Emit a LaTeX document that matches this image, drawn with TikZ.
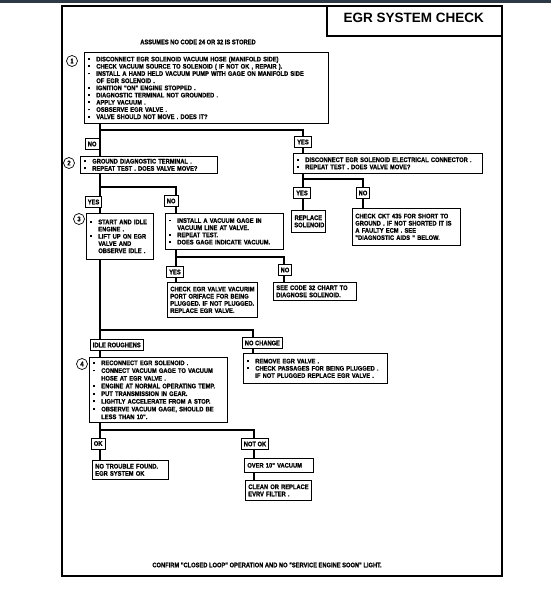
\documentclass[tikz,border=0pt]{standalone}
\usepackage{fontspec}
\setmainfont{Liberation Sans}
\newfontfamily\egrfont[FakeStretch=0.87, FakeBold=1]{Liberation Sans Bold}
\newcommand{\egr}{\egrfont\fontsize{6.6}{7.2}\selectfont}
\newcommand{\egrw}{\egrfont\fontsize{6.6}{7.7}\selectfont}
\newcommand{\dotb}{\hspace*{0.6pt}\rule[1.4pt]{1.9pt}{1.9pt}}
\newcommand{\bl}[1]{\mbox{\makebox[9pt][l]{\dotb}#1}}
\newcommand{\nb}[1]{\mbox{\hspace*{9pt}#1}}
\newcommand{\pl}[1]{\mbox{#1}}
\definecolor{bandgray}{RGB}{45,58,70}
\tikzset{
  stepbox/.style={draw, fill=white, line width=0.7pt, anchor=north west, align=left, font=\egr, inner xsep=3pt, inner ysep=1pt},
  tag/.style={draw, fill=white, line width=0.7pt, font=\egr, inner xsep=2.5pt, inner ysep=0pt, minimum height=11pt},
  num/.style={circle, draw, line width=0.7pt, fill=white, minimum size=11pt, inner sep=0pt, font=\egr},
  flow/.style={line width=1.9pt},
}
\begin{document}
\begin{tikzpicture}[x=1pt, y=-1pt]
\useasboundingbox (0,0) rectangle (551,591);
\fill[bandgray] (0,0) rectangle (551,3.5);
\draw[line width=1.4pt] (62,6) rectangle (502,576);
\draw[line width=1.2pt] (327,6) rectangle (502,36);
\node[anchor=base west, font=\bfseries\fontsize{13.5}{14}\selectfont] (title) at (340,22.5) {EGR SYSTEM CHECK};
\node[font=\egr] (assume) at (198,42) {ASSUMES NO CODE 24 OR 32 IS STORED};

\node[stepbox, text width=238pt, minimum height=71pt] (b1) at (84,52) {\bl{DISCONNECT EGR SOLENOID VACUUM HOSE (MANIFOLD SIDE)}\\
\bl{CHECK VACUUM SOURCE TO SOLENOID ( IF NOT OK , REPAIR ).}\\
\bl{INSTALL A HAND HELD VACUUM PUMP WITH GAGE ON MANIFOLD SIDE}\\
\nb{OF EGR SOLENOID .}\\
\bl{IGNITION "ON" ENGINE STOPPED .}\\
\bl{DIAGNOSTIC TERMINAL NOT GROUNDED .}\\
\bl{APPLY VACUUM .}\\
\bl{OSBSERVE EGR VALVE .}\\
\bl{VALVE SHOULD NOT MOVE .  DOES IT?}};
\node[stepbox, text width=131pt, minimum height=17pt] (b2) at (80,156) {\bl{GROUND DIAGNOSTIC TERMINAL .}\\
\bl{REPEAT TEST .  DOES VALVE MOVE?}};
\node[stepbox, text width=61pt, minimum height=46pt] (b3) at (86,213) {\bl{START AND IDLE}\\
\nb{ENGINE .}\\
\bl{LIFT UP ON EGR}\\
\nb{VALVE  AND}\\
\nb{OBSERVE IDLE .}};
\node[stepbox, text width=112pt, minimum height=36pt] (b3n) at (165,213) {\bl{INSTALL A VACUUM GAGE IN}\\
\nb{VACUUM LINE AT VALVE.}\\
\bl{REPEAT TEST.}\\
\bl{DOES GAGE INDICATE VACUUM.}};
\node[stepbox, text width=84pt, minimum height=35pt] (b3y) at (167,282) {\pl{CHECK EGR VALVE VACURIM}\\
\pl{PORT ORIFACE FOR BEING}\\
\pl{PLUGGED.  IF NOT PLUGGED.}\\
\pl{REPLACE EGR VALVE.}};
\node[stepbox, text width=77pt, minimum height=18pt] (b3nn) at (273,282) {\pl{SEE CODE 32 CHART TO}\\
\pl{DIAGNOSE SOLENOID.}};
\node[stepbox, text width=183pt, minimum height=20pt] (r1) at (293,153) {\bl{DISCONNECT EGR SOLENOID ELECTRICAL CONNECTOR .}\\
\bl{REPEAT TEST .  DOES VALVE MOVE?}};
\node[stepbox, align=center, text width=28pt, minimum height=22pt] (r1y) at (291,210) {\pl{REPLACE}\\\pl{SOLENOID}};
\node[stepbox, text width=102pt, minimum height=37pt] (r1n) at (352,208) {\pl{CHECK CKT 435 FOR SHORT TO}\\
\pl{GROUND . IF NOT SHORTED IT IS}\\
\pl{A FAULTY ECM .  SEE}\\
\pl{"DIAGNOSTIC AIDS " BELOW.}};
\node[stepbox, font=\egrw, text width=132pt, minimum height=65pt] (b4) at (89,357) {\bl{RECONNECT EGR SOLENOID .}\\
\bl{CONNECT VACUUM GAGE TO VACUUM}\\
\nb{HOSE AT EGR VALVE .}\\
\bl{ENGINE AT NORMAL OPERATING TEMP.}\\
\bl{PUT TRANSMISSION IN GEAR.}\\
\bl{LIGHTLY ACCELERATE FROM A STOP.}\\
\bl{OBSERVE VACUUM GAGE, SHOULD BE}\\
\nb{LESS THAN 10".}};
\node[stepbox, text width=138pt, minimum height=30pt] (nc) at (243,353) {\bl{REMOVE EGR VALVE .}\\
\bl{CHECK PASSAGES FOR BEING PLUGGED .}\\
\nb{IF NOT PLUGGED REPLACE EGR VALVE .}};
\node[stepbox, text width=70pt, minimum height=19pt] (okbox) at (92,460) {\pl{NO TROUBLE FOUND.}\\
\pl{EGR SYSTEM OK}};
\node[stepbox, text width=63pt, minimum height=14pt] (over) at (244,458) {\pl{OVER 10" VACUUM}};
\node[stepbox, text width=60pt, minimum height=20pt] (clean) at (245,480) {\pl{CLEAN OR REPLACE}\\
\pl{EVRV FILTER .}};

\node[num] (c1) at (72,61) {1};
\node[num] (c2) at (69,163) {2};
\node[num] (c3) at (79,219) {3};
\node[num] (c4) at (82,364) {4};

\coordinate (j1) at (100,130);
\coordinate (j1r) at (303,130);
\coordinate (j2) at (100,187);
\coordinate (j2r) at (176,187);
\coordinate (j3) at (176,257);
\coordinate (j3r) at (284,257);
\coordinate (j4) at (100,330);
\coordinate (j4r) at (253,330);
\coordinate (j5) at (100,430);
\coordinate (j5r) at (254,430);
\coordinate (j6) at (303,179);
\coordinate (j6r) at (363,179);

\draw[flow] (b1.south -| j1) -- (j1) -- (j1r) -- (r1.north -| j1r);
\draw[flow] (j1) -- (b2.north -| j1);
\draw[flow] (b2.south -| j2) -- (j2) -- (j2r) -- (b3n.north -| j2r);
\draw[flow] (j2) -- (b3.north -| j2);
\draw[flow] (b3n.south -| j3) -- (j3) -- (j3r) -- (b3nn.north -| j3r);
\draw[flow] (j3) -- (b3y.north -| j3);
\draw[flow] (b3.south -| j4) -- (j4) -- (j4r) -- (nc.north -| j4r);
\draw[flow] (j4) -- (b4.north -| j4);
\draw[flow] (b4.south -| j5) -- (j5) -- (j5r) -- (over.north -| j5r);
\draw[flow] (over.south -| j5r) -- (clean.north -| j5r);
\draw[flow] (j5) -- (okbox.north -| j5);
\draw[flow] (r1.south -| j6) -- (j6) -- (j6r) -- (r1n.north -| j6r);
\draw[flow] (j6) -- (r1y.north -| j6);

\node[tag, anchor=west] (noA) at (85,144) {NO};
\node[tag] (yesA) at (303,142) {YES};
\node[tag, anchor=west] (yesB) at (85,202) {YES};
\node[tag, anchor=west] (noB) at (164,201) {NO};
\node[tag] (yesC) at (175,272) {YES};
\node[tag] (noC) at (285,270) {NO};
\node[tag] (yesD) at (302,193) {YES};
\node[tag] (noD) at (363,193) {NO};
\node[tag, anchor=west] (idle) at (90,345) {IDLE ROUGHENS};
\node[tag, anchor=west] (nochg) at (242,343) {NO CHANGE};
\node[tag, anchor=west] (ok) at (91,443.5) {OK};
\node[tag] (notok) at (255,444) {NOT OK};

\node[font=\egr] (confirm) at (267,565) {CONFIRM "CLOSED LOOP" OPERATION AND NO "SERVICE ENGINE SOON" LIGHT.};
\end{tikzpicture}
\end{document}
